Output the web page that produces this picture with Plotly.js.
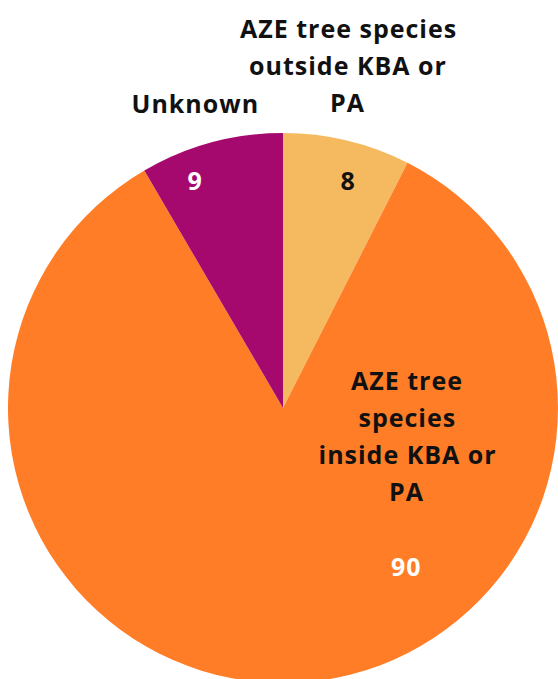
<!DOCTYPE html>
<html>
<head>
<meta charset="utf-8">
<script src="https://cdn.plot.ly/plotly-3.0.1.min.js"></script>
<style>
html,body{margin:0;padding:0;overflow:hidden;background:#fff;width:558px;height:679px;}
#chart{width:558px;height:690px;}
#chart .annotation-text{letter-spacing:1px;}
</style>
</head>
<body>
<div id="chart"></div>
<script>
// Data
const categories = ["AZE tree species outside KBA or PA", "AZE tree species inside KBA or PA", "Unknown"];
const labelLines = [["AZE tree species", "outside KBA or", "PA"], ["AZE tree", "species", "inside KBA or", "PA"], ["Unknown"]];
const values = [8, 90, 9];
const colors = ["#F5BA5F", "#FF7D27", "#A5096E"];
const valueColors = ["#111111", "#FFFFFF", "#FFFFFF"];

// Layout (pixel positions within the 558 x 690 plot area)
const W = 558, H = 690;
const pieBox = {x0: 8, x1: 558, top: 133, bottom: 683};
const valuePos = [[348, 180], [406, 566], [195, 180]];
const labelPos = [[348, 28], [407, 380], [195, 103]];
const lineHeight = 37;
const fontFamily = "'Open Sans', Lato, sans-serif";
const fontSize = 25;

const px = x => x / W;
const py = y => (H - y) / H;

const trace = {
  type: "pie",
  labels: categories,
  values: values,
  sort: false,
  direction: "clockwise",
  rotation: 0,
  marker: {colors: colors, line: {width: 0}},
  textinfo: "none",
  hoverinfo: "label+value",
  showlegend: false,
  domain: {x: [px(pieBox.x0), px(pieBox.x1)], y: [py(pieBox.bottom), py(pieBox.top)]}
};

const annotations = [];
values.forEach((v, i) => {
  annotations.push({
    text: "<b>" + v + "</b>", xref: "paper", yref: "paper",
    x: px(valuePos[i][0]), y: py(valuePos[i][1]), xanchor: "center", yanchor: "middle",
    showarrow: false, font: {family: fontFamily, size: fontSize, color: valueColors[i]}
  });
  labelLines[i].forEach((line, j) => {
    annotations.push({
      text: "<b>" + line + "</b>", xref: "paper", yref: "paper",
      x: px(labelPos[i][0]), y: py(labelPos[i][1] + j * lineHeight), xanchor: "center", yanchor: "middle",
      showarrow: false, font: {family: fontFamily, size: fontSize, color: "#111111"}
    });
  });
});

const layout = {
  width: W, height: H,
  margin: {l: 0, r: 0, t: 0, b: 0},
  paper_bgcolor: "#ffffff",
  annotations: annotations
};

Plotly.newPlot("chart", [trace], layout, {displayModeBar: false, staticPlot: true});
</script>
</body>
</html>
